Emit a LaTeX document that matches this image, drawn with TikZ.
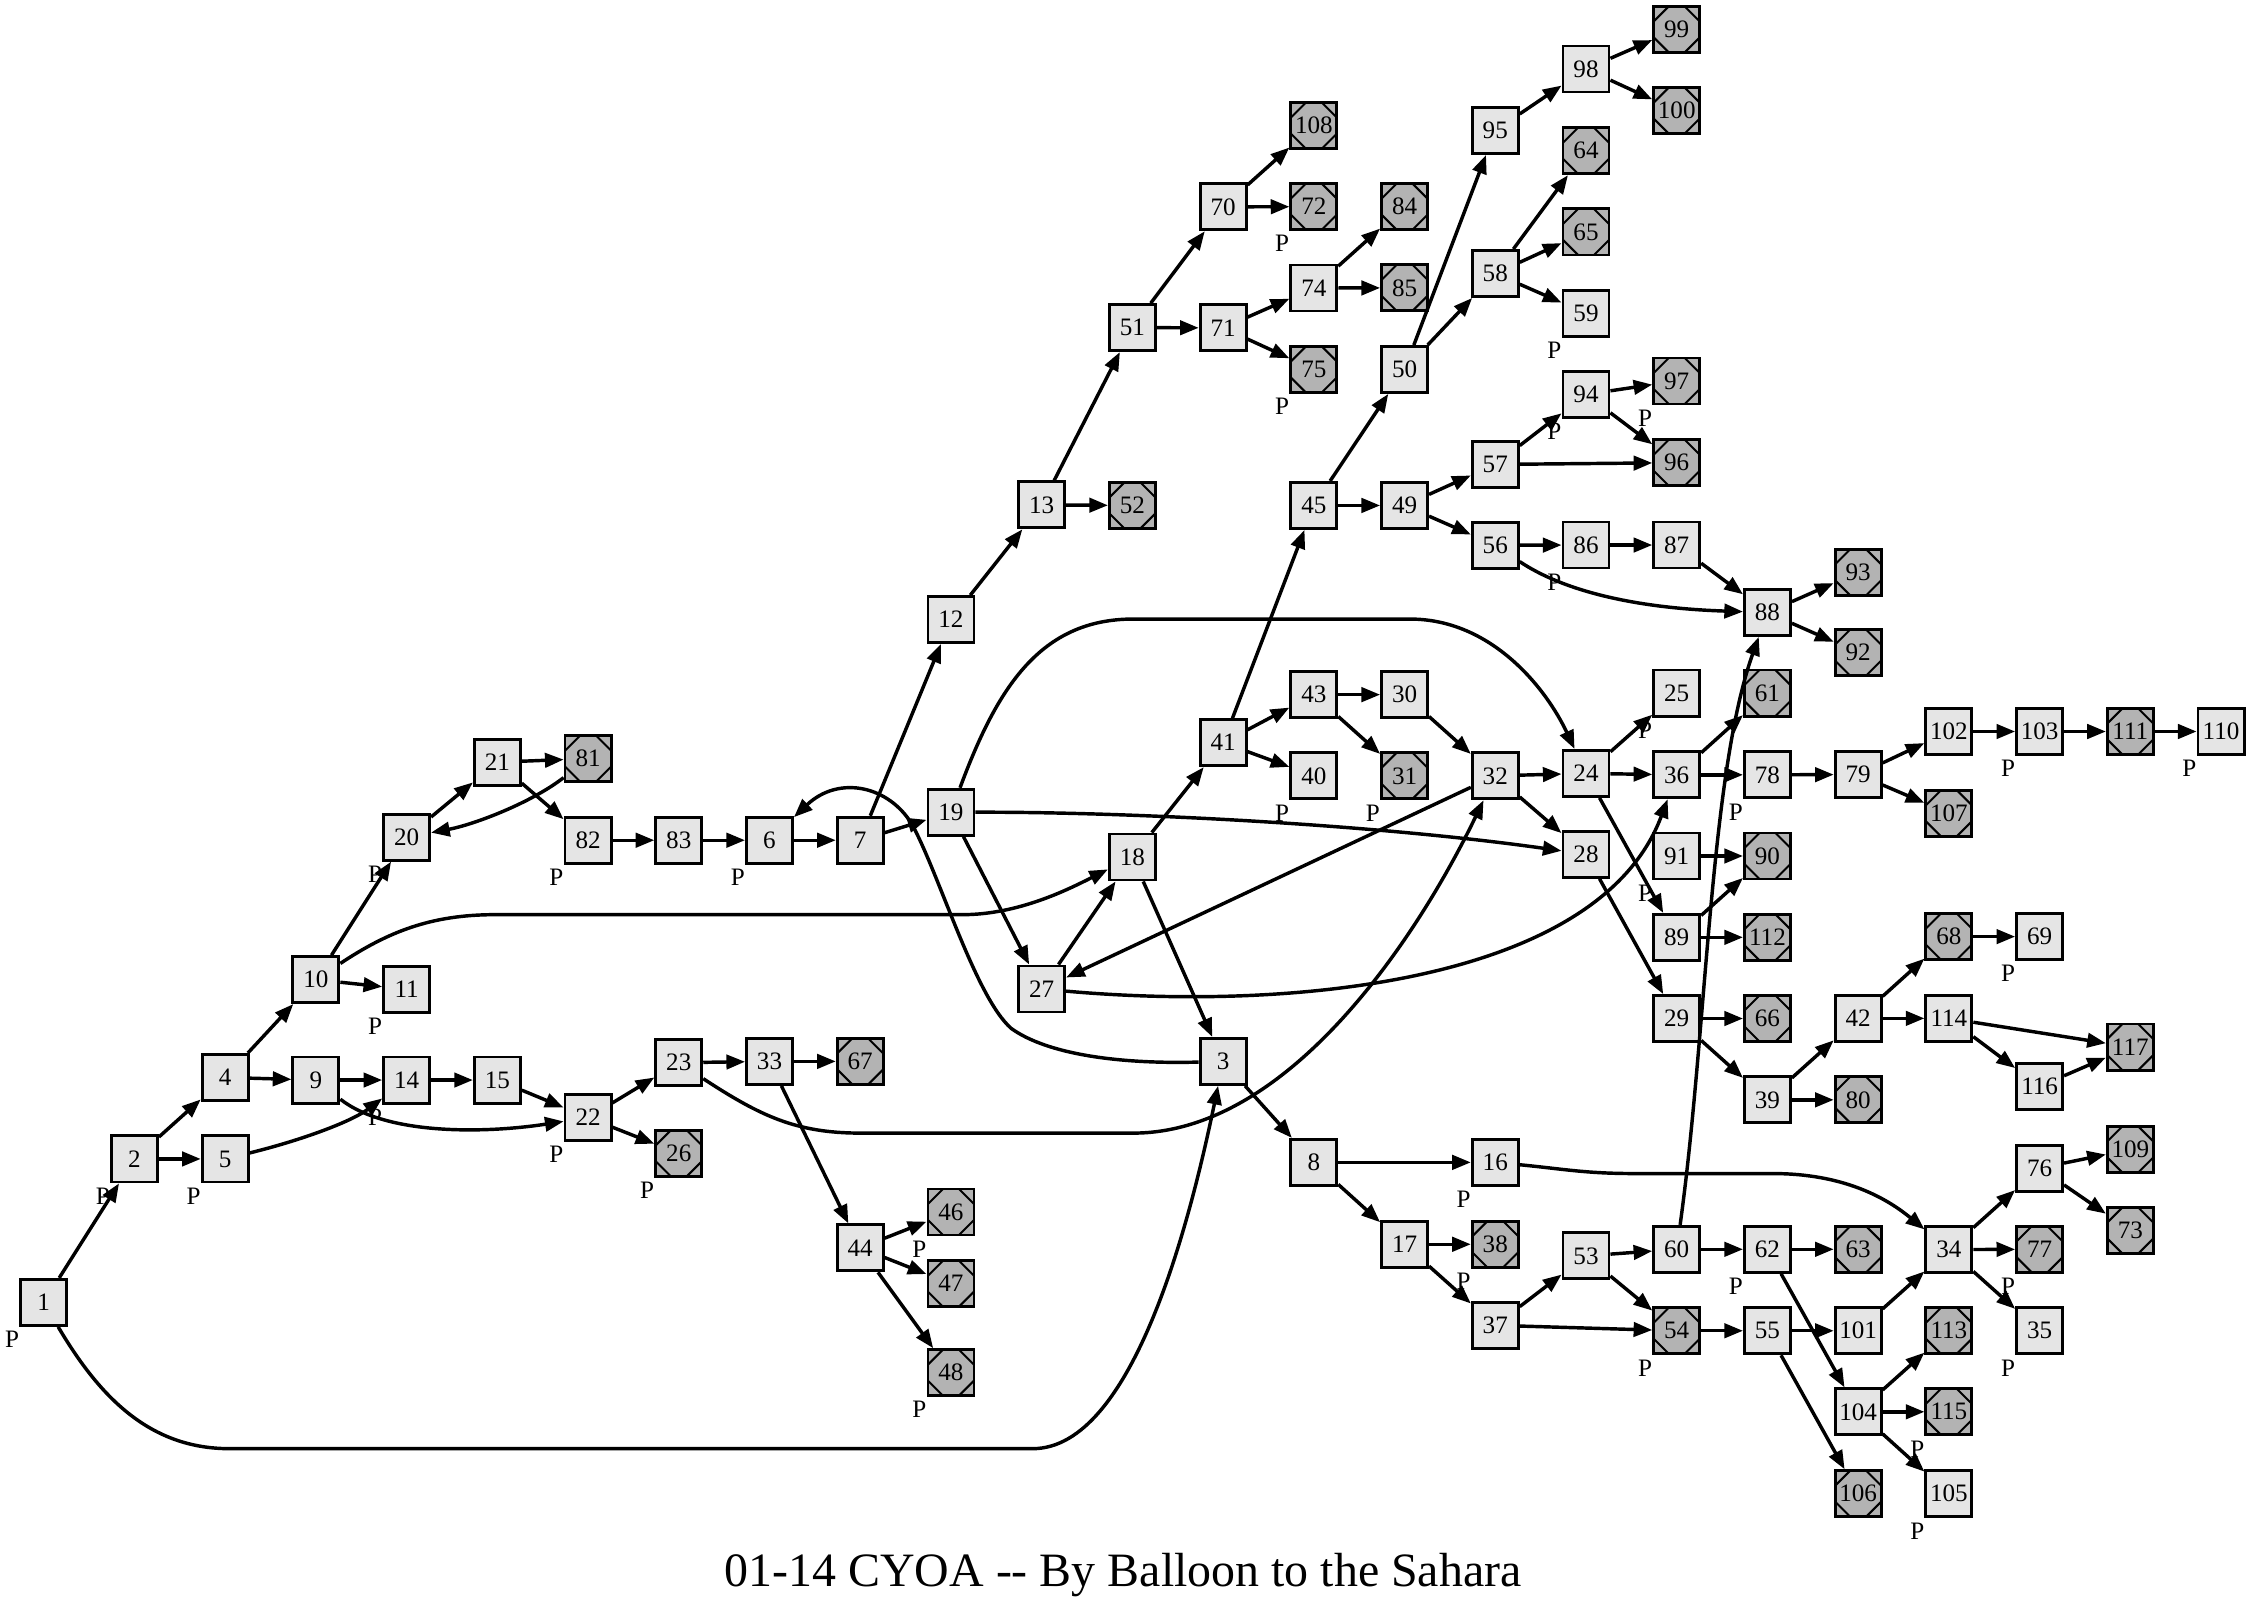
\documentclass[tikz,border=0pt]{standalone}
\usepackage{fontspec}
\setmainfont{Liberation Serif}
\usetikzlibrary{arrows.meta}
\definecolor{boxfill}{RGB}{229,229,229}
\definecolor{octfill}{RGB}{179,179,179}
\tikzset{
  nd/.style={draw, line width=2pt, fill=boxfill, rectangle, minimum size=32.1pt, inner sep=0pt, font=\fontsize{17.5}{20}\selectfont},
  oct/.style={nd, fill=octfill, path picture={
    \draw[line width=1.4pt]
      ([yshift=-10.5pt]path picture bounding box.north west) -- ([xshift=10.5pt]path picture bounding box.north west)
      ([xshift=-10.5pt]path picture bounding box.north east) -- ([yshift=-10.5pt]path picture bounding box.north east)
      ([yshift=10.5pt]path picture bounding box.south east) -- ([xshift=-10.5pt]path picture bounding box.south east)
      ([xshift=10.5pt]path picture bounding box.south west) -- ([yshift=10.5pt]path picture bounding box.south west);
  }},
  e/.style={draw, line width=2.4pt, -{Triangle[length=13pt,width=10pt]}},
  plab/.style={font=\fontsize{17.5}{20}\selectfont, inner sep=0pt},
}
\newcommand\mkN[4]{\node[#1] (n#2) at ({30.5+63.25*#3},#4) {#2};}
\newcommand\Pl[1]{\node[plab] (p#1) at ([xshift=-5pt,yshift=-8.8pt]n#1.south west) {P};}
\begin{document}
\begin{tikzpicture}[x=1pt,y=-1pt]
\fill[white] (0,0) rectangle (1568,1121);
\useasboundingbox (0,0) rectangle (1568,1121);
% nodes
\mkN{nd}{1}{0}{908}
\mkN{nd}{2}{1}{808}
\mkN{nd}{4}{2}{751.2}
\mkN{nd}{5}{2}{808}
\mkN{nd}{9}{3}{753}
\mkN{nd}{10}{3}{683}
\mkN{nd}{11}{4}{689.7}
\mkN{nd}{14}{4}{753}
\mkN{nd}{20}{4}{583.7}
\mkN{nd}{15}{5}{753}
\mkN{nd}{21}{5}{531.4}
\mkN{nd}{22}{6}{779.2}
\mkN{oct}{81}{6}{528.9}
\mkN{nd}{82}{6}{585.8}
\mkN{nd}{23}{7}{740.9}
\mkN{oct}{26}{7}{804.1}
\mkN{nd}{83}{7}{585.8}
\mkN{nd}{33}{8}{740}
\mkN{nd}{6}{8}{585.8}
\mkN{oct}{67}{9}{740}
\mkN{nd}{44}{9}{870}
\mkN{nd}{7}{9}{585.8}
\mkN{oct}{46}{10}{845}
\mkN{oct}{47}{10}{895}
\mkN{oct}{48}{10}{957}
\mkN{nd}{19}{10}{566.3}
\mkN{nd}{12}{10}{432}
\mkN{nd}{13}{11}{352}
\mkN{nd}{27}{11}{689.5}
\mkN{oct}{52}{12}{352.4}
\mkN{nd}{51}{12}{228.4}
\mkN{nd}{18}{12}{597.5}
\mkN{nd}{70}{13}{144.2}
\mkN{nd}{71}{13}{228.6}
\mkN{nd}{41}{13}{517.8}
\mkN{nd}{3}{13}{740}
\mkN{oct}{108}{14}{87.6}
\mkN{oct}{72}{14}{144.1}
\mkN{nd}{74}{14}{200.8}
\mkN{oct}{75}{14}{257.6}
\mkN{nd}{45}{14}{352.4}
\mkN{nd}{43}{14}{484.3}
\mkN{nd}{40}{14}{540.9}
\mkN{nd}{8}{14}{810.4}
\mkN{oct}{84}{15}{144.1}
\mkN{oct}{85}{15}{200.7}
\mkN{nd}{50}{15}{257.6}
\mkN{nd}{49}{15}{352.4}
\mkN{nd}{30}{15}{484.3}
\mkN{oct}{31}{15}{540.9}
\mkN{nd}{17}{15}{867.5}
\mkN{nd}{95}{16}{91}
\mkN{nd}{58}{16}{190.7}
\mkN{nd}{57}{16}{323.8}
\mkN{nd}{56}{16}{380.1}
\mkN{nd}{32}{16}{540.9}
\mkN{nd}{16}{16}{810.4}
\mkN{oct}{38}{16}{867.5}
\mkN{nd}{37}{16}{924}
\mkN{nd}{98}{17}{48.1}
\mkN{oct}{64}{17}{105.1}
\mkN{oct}{65}{17}{161.7}
\mkN{nd}{59}{17}{218.4}
\mkN{nd}{94}{17}{275}
\mkN{nd}{86}{17}{380}
\mkN{nd}{24}{17}{539.2}
\mkN{nd}{28}{17}{595.6}
\mkN{nd}{53}{17}{875.6}
\mkN{oct}{99}{18}{20.5}
\mkN{oct}{100}{18}{77.1}
\mkN{oct}{97}{18}{265.6}
\mkN{oct}{96}{18}{322.6}
\mkN{nd}{87}{18}{380}
\mkN{nd}{25}{18}{483.2}
\mkN{nd}{36}{18}{540.2}
\mkN{nd}{91}{18}{596.8}
\mkN{nd}{89}{18}{653.5}
\mkN{nd}{29}{18}{710.1}
\mkN{nd}{60}{18}{871}
\mkN{oct}{54}{18}{927.8}
\mkN{nd}{88}{19}{427}
\mkN{oct}{61}{19}{483.2}
\mkN{nd}{78}{19}{540.2}
\mkN{oct}{90}{19}{596.8}
\mkN{oct}{112}{19}{653.5}
\mkN{oct}{66}{19}{710.1}
\mkN{nd}{39}{19}{766.8}
\mkN{nd}{62}{19}{871}
\mkN{nd}{55}{19}{927.8}
\mkN{oct}{93}{20}{399}
\mkN{oct}{92}{20}{455}
\mkN{nd}{79}{20}{540}
\mkN{nd}{42}{20}{710}
\mkN{oct}{80}{20}{766.8}
\mkN{oct}{63}{20}{871}
\mkN{nd}{101}{20}{927.8}
\mkN{nd}{104}{20}{984.3}
\mkN{oct}{106}{20}{1041.4}
\mkN{nd}{102}{21}{510}
\mkN{oct}{107}{21}{567}
\mkN{oct}{68}{21}{653}
\mkN{nd}{114}{21}{710}
\mkN{nd}{34}{21}{871.2}
\mkN{oct}{113}{21}{927.8}
\mkN{oct}{115}{21}{984.3}
\mkN{nd}{105}{21}{1041.4}
\mkN{nd}{103}{22}{510}
\mkN{nd}{69}{22}{653}
\mkN{nd}{116}{22}{757.4}
\mkN{nd}{76}{22}{814.4}
\mkN{oct}{77}{22}{871}
\mkN{nd}{35}{22}{927.8}
\mkN{oct}{111}{23}{510}
\mkN{oct}{117}{23}{730}
\mkN{oct}{109}{23}{801.4}
\mkN{oct}{73}{23}{857.9}
\mkN{nd}{110}{24}{510}
% P labels
\foreach \q in {1,2,5,14,22,26,20,82,6,11,72,75,40,31,46,48,59,94,97,86,25,91,78,103,110,69,16,38,54,62,77,35,115,105} {\Pl{\q}}
% straight edges
\foreach \a/\b in {1/2, 2/4, 2/5, 4/10, 4/9, 9/14, 14/15, 15/22, 22/23, 22/26, 23/33, 33/67, 33/44, 44/46, 44/47, 44/48, 10/20, 10/11, 20/21, 21/81, 21/82, 82/83, 83/6, 6/7, 7/19, 7/12, 12/13, 13/51, 13/52, 51/70, 51/71, 70/108, 70/72, 71/74, 71/75, 74/84, 74/85, 19/27, 27/18, 18/41, 18/3, 32/27, 41/45, 41/43, 41/40, 43/30, 43/31, 30/32, 32/24, 32/28, 24/25, 24/36, 24/89, 36/61, 36/78, 78/79, 79/102, 79/107, 102/103, 103/111, 111/110, 91/90, 89/90, 89/112, 28/29, 29/66, 29/39, 39/42, 39/80, 42/68, 42/114, 68/69, 114/117, 114/116, 116/117, 3/8, 8/16, 8/17, 17/38, 17/37, 37/53, 37/54, 53/60, 53/54, 54/55, 60/62, 62/63, 62/104, 55/101, 55/106, 101/34, 104/113, 104/115, 104/105, 34/76, 34/77, 34/35, 76/109, 76/73, 45/50, 45/49, 50/95, 50/58, 95/98, 98/99, 98/100, 58/64, 58/65, 58/59, 49/57, 49/56, 57/94, 57/96, 94/97, 94/96, 56/86, 86/87, 87/88, 88/93, 88/92}
  {\draw[e] (n\a) -- (n\b);}
% curved edges
\draw[e] (n1) .. controls (70,975) and (105,1010) .. (160,1010) -- (720,1010) .. controls (790,1010) and (830,850) .. (n3);
\draw[e] (n9) .. controls (270,792) and (340,790) .. (n22);
\draw[e] (n5) .. controls (210,795) and (245,782) .. (n14);
\draw[e] (n23) .. controls (530,778) and (555,790) .. (600,790) -- (790,790) .. controls (900,790) and (990,650) .. (n32);
\draw[e] (n10) .. controls (270,650) and (300,637.7) .. (345,637.7) -- (671,637.7) .. controls (710,637.7) and (745,620) .. (n18);
\draw[e] (n81) .. controls (370,560) and (330,575) .. (n20);
\draw[e] (n3) .. controls (780,742) and (730,735) .. (705,717) .. controls (680,695) and (655,610) .. (636,575) .. controls (620,548) and (585,540) .. (n6);
\draw[e] (n19) .. controls (695,480) and (725,431.6) .. (790,431.6) -- (983,431.6) .. controls (1040,431.6) and (1078,480) .. (n24);
\draw[e] (n19) .. controls (790,566) and (960,575) .. (n28);
\draw[e] (n27) .. controls (900,705) and (1115,685) .. (n36);
\draw[e] (n16) .. controls (1090,815) and (1105,818.2) .. (1140,818.2) -- (1236,818.2) .. controls (1285,818.2) and (1315,835) .. (n34);
\draw[e] (n60) .. controls (1190,720) and (1192,540) .. (n88);
\draw[e] (n56) .. controls (1090,412) and (1140,424) .. (n88);
% title
\node[font=\fontsize{33.4}{40}\selectfont, anchor=base, inner sep=0pt] (title) at (783,1106) {01-14 CYOA -{}- By Balloon to the Sahara};
\end{tikzpicture}
\end{document}
